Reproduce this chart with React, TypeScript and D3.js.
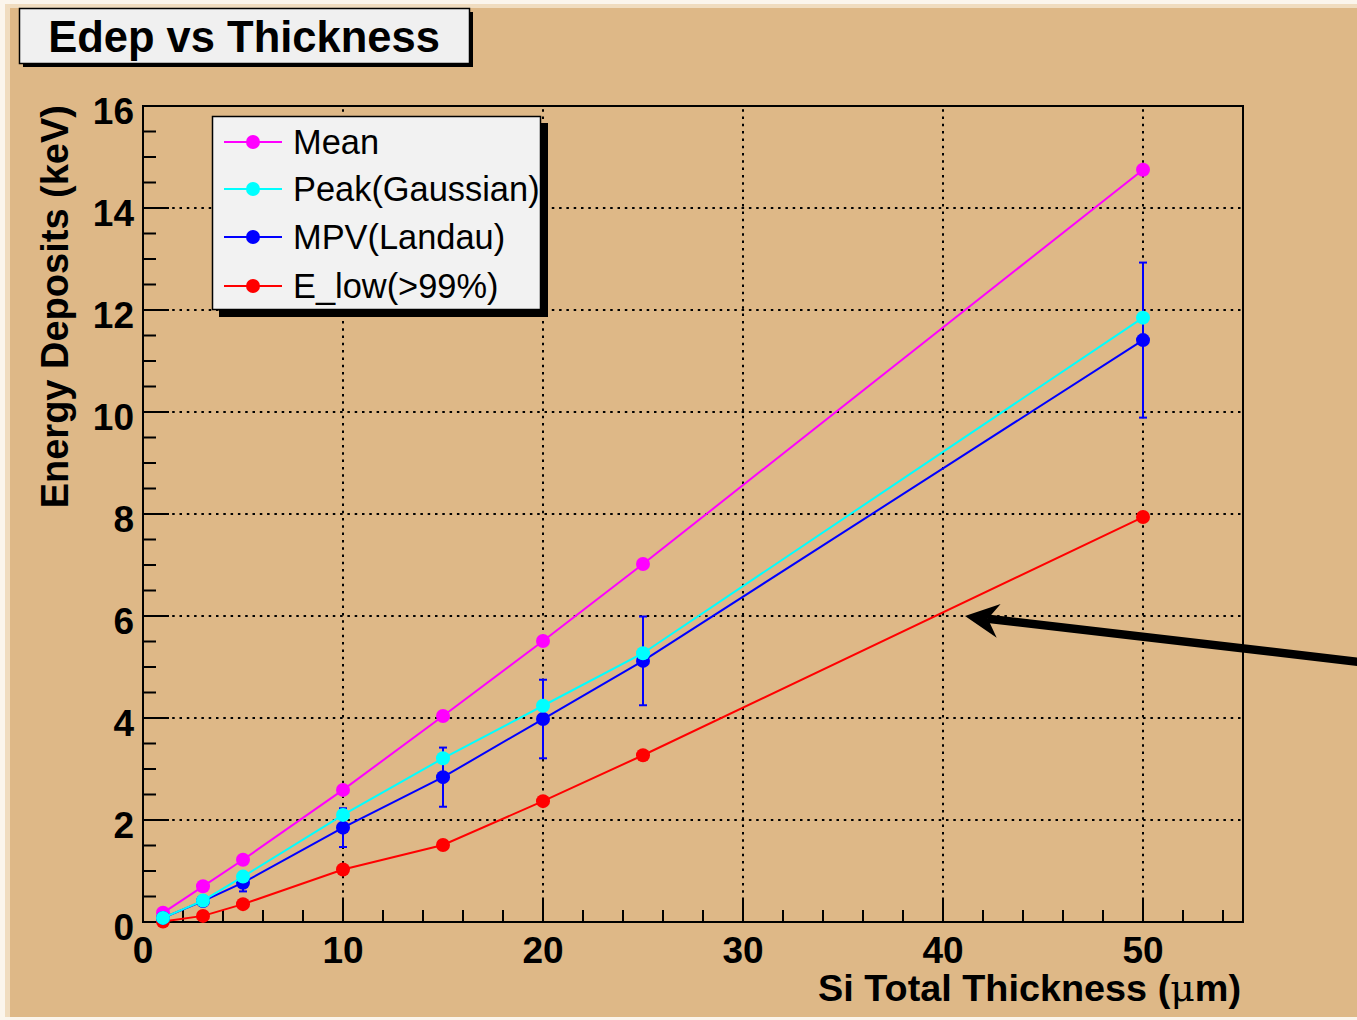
import React, { useEffect, useRef } from "react";
import * as d3 from "d3";

// Si thickness (um) and energy deposits (keV)
const thickness = [1, 3, 5, 10, 15, 20, 25, 50];
const meanEdep = [0.18, 0.7, 1.22, 2.59, 4.04, 5.51, 7.02, 14.75];
const peakEdep = [0.08, 0.42, 0.89, 2.1, 3.21, 4.24, 5.27, 11.85];
const mpvEdep = [0.08, 0.41, 0.77, 1.85, 2.84, 3.98, 5.12, 11.41];
const mpvErr = [0.04, 0.08, 0.17, 0.38, 0.58, 0.77, 0.87, 1.52];
const elowEdep = [0.01, 0.12, 0.35, 1.03, 1.51, 2.37, 3.27, 7.94];

const legendNames = ["Mean", "Peak(Gaussian)", "MPV(Landau)", "E_low(>99%)"];
const legendColors = ["#ff00ff", "#00ffff", "#0000ff", "#ff0000"];

const xMajor = [0, 10, 20, 30, 40, 50];
const yMajor = [0, 2, 4, 6, 8, 10, 12, 14, 16];

// annotation arrow, data coords (tail is outside the frame)
const arrowTail = [60.8, 5.1];
const arrowTip = [41.1, 6.0];

const FONT = "'Liberation Sans', Arial, Helvetica, sans-serif";
const BG = "#deb887";

const App = () => {
  const svgRef = useRef(null);

  useEffect(() => {
    const width = 1357;
    const height = 1020;
    const frame = { left: 143, right: 1243, top: 106, bottom: 922 };

    const svg = d3.select(svgRef.current);
    svg.selectAll("*").remove();
    svg.attr("width", width).attr("height", height);

    // canvas
    svg.append("rect").attr("width", width).attr("height", height).attr("fill", "#fbf5ec");
    svg.append("rect").attr("x", 5).attr("y", 4).attr("width", width - 5).attr("height", height - 7).attr("fill", "#f0dcbf");
    svg.append("rect").attr("x", 10).attr("y", 8).attr("width", width - 10).attr("height", height - 11).attr("fill", BG);

    const x = d3.scaleLinear().domain([0, 55]).range([frame.left, frame.right]);
    const y = d3.scaleLinear().domain([0, 16]).range([frame.bottom, frame.top]);

    // grid
    const grid = svg.append("g").attr("stroke", "#000").attr("stroke-width", 2).attr("stroke-dasharray", "2.5,4.8");
    grid.selectAll(".gx").data(xMajor.filter(d => d > 0)).join("line")
      .attr("x1", d => x(d)).attr("x2", d => x(d))
      .attr("y1", frame.bottom).attr("y2", frame.top);
    grid.selectAll(".gy").data(yMajor.filter(d => d > 0 && d < 16)).join("line")
      .attr("y1", d => y(d)).attr("y2", d => y(d))
      .attr("x1", frame.left).attr("x2", frame.right);

    // axes with inward ticks
    const xMinor = d3.range(0, 55.01, 2).filter(d => d % 10 !== 0);
    const yMinor = d3.range(0, 16.01, 0.5).filter(d => d % 2 !== 0);

    const xAxis = svg.append("g").attr("stroke", "#000").attr("stroke-width", 2);
    xAxis.selectAll(".mj").data(xMajor).join("line")
      .attr("x1", d => x(d)).attr("x2", d => x(d))
      .attr("y1", frame.bottom).attr("y2", frame.bottom - 24);
    xAxis.selectAll(".mn").data(xMinor).join("line")
      .attr("class", "mn")
      .attr("x1", d => x(d)).attr("x2", d => x(d))
      .attr("y1", frame.bottom).attr("y2", frame.bottom - 12);

    const yAxis = svg.append("g").attr("stroke", "#000").attr("stroke-width", 2);
    yAxis.selectAll(".mj").data(yMajor).join("line")
      .attr("y1", d => y(d)).attr("y2", d => y(d))
      .attr("x1", frame.left).attr("x2", frame.left + 26);
    yAxis.selectAll(".mn").data(yMinor).join("line")
      .attr("class", "mn")
      .attr("y1", d => y(d)).attr("y2", d => y(d))
      .attr("x1", frame.left).attr("x2", frame.left + 13);

    // frame
    svg.append("rect")
      .attr("x", frame.left).attr("y", frame.top)
      .attr("width", frame.right - frame.left).attr("height", frame.bottom - frame.top)
      .attr("fill", "none").attr("stroke", "#000").attr("stroke-width", 2);

    // tick labels
    svg.append("g").selectAll("text").data(xMajor).join("text")
      .attr("x", d => x(d)).attr("y", 963)
      .attr("text-anchor", "middle")
      .attr("font-family", FONT).attr("font-weight", "bold").attr("font-size", 37)
      .text(d => d);
    svg.append("g").selectAll("text").data(yMajor).join("text")
      .attr("x", 134).attr("y", d => y(d) + 18)
      .attr("text-anchor", "end")
      .attr("font-family", FONT).attr("font-weight", "bold").attr("font-size", 37)
      .text(d => d);

    // axis titles
    const xt = svg.append("text")
      .attr("x", 1241).attr("y", 1001)
      .attr("text-anchor", "end")
      .attr("font-family", FONT).attr("font-weight", "bold").attr("font-size", 37.8);
    xt.append("tspan").text("Si Total Thickness (");
    xt.append("tspan").attr("font-weight", "normal").attr("font-family", "'DejaVu Serif', serif").text("\u03bc");
    xt.append("tspan").text("m)");

    svg.append("text")
      .attr("transform", "translate(68,105) rotate(-90)")
      .attr("text-anchor", "end")
      .attr("font-family", FONT).attr("font-weight", "bold").attr("font-size", 38)
      .text("Energy Deposits (keV)");

    // series
    const line = d3.line().x(d => x(d[0])).y(d => y(d[1]));
    const drawSeries = (vals, color) => {
      const pts = thickness.map((t, i) => [t, vals[i]]);
      const g = svg.append("g");
      g.append("path").attr("d", line(pts)).attr("fill", "none").attr("stroke", color).attr("stroke-width", 2);
      return { g, pts };
    };
    const drawMarkers = (g, pts, color) => {
      g.selectAll("circle").data(pts).join("circle")
        .attr("cx", d => x(d[0])).attr("cy", d => y(d[1])).attr("r", 7).attr("fill", color);
    };

    const red = drawSeries(elowEdep, legendColors[3]);
    drawMarkers(red.g, red.pts, legendColors[3]);
    const mag = drawSeries(meanEdep, legendColors[0]);
    drawMarkers(mag.g, mag.pts, legendColors[0]);

    const blue = drawSeries(mpvEdep, legendColors[2]);
    const errs = thickness.map((t, i) => ({ t, lo: mpvEdep[i] - mpvErr[i], hi: mpvEdep[i] + mpvErr[i] }));
    const eg = blue.g.append("g").attr("stroke", legendColors[2]).attr("stroke-width", 2);
    eg.selectAll(".v").data(errs).join("line")
      .attr("x1", d => x(d.t)).attr("x2", d => x(d.t))
      .attr("y1", d => y(d.lo)).attr("y2", d => y(d.hi));
    eg.selectAll(".ch").data(errs).join("line")
      .attr("class", "ch")
      .attr("x1", d => x(d.t) - 4).attr("x2", d => x(d.t) + 4)
      .attr("y1", d => y(d.hi)).attr("y2", d => y(d.hi));
    eg.selectAll(".cl").data(errs).join("line")
      .attr("class", "cl")
      .attr("x1", d => x(d.t) - 4).attr("x2", d => x(d.t) + 4)
      .attr("y1", d => y(d.lo)).attr("y2", d => y(d.lo));
    drawMarkers(blue.g, blue.pts, legendColors[2]);

    const cyan = drawSeries(peakEdep, legendColors[1]);
    drawMarkers(cyan.g, cyan.pts, legendColors[1]);

    // legend
    const lg = svg.append("g");
    lg.append("rect").attr("x", 219).attr("y", 123).attr("width", 329).attr("height", 194).attr("fill", "#000");
    lg.append("rect").attr("x", 212.5).attr("y", 116.5).attr("width", 328).attr("height", 193)
      .attr("fill", "#f2f2f2").attr("stroke", "#000").attr("stroke-width", 1.5);
    const rowY = [142, 189, 237, 286];
    legendNames.forEach((name, i) => {
      lg.append("line").attr("x1", 224).attr("x2", 282).attr("y1", rowY[i]).attr("y2", rowY[i])
        .attr("stroke", legendColors[i]).attr("stroke-width", 2);
      lg.append("circle").attr("cx", 253).attr("cy", rowY[i]).attr("r", 7).attr("fill", legendColors[i]);
      lg.append("text").attr("x", 293).attr("y", rowY[i] + 12)
        .attr("font-family", FONT).attr("font-size", 34.4).attr("fill", "#000")
        .text(name);
    });

    // title box
    const tg = svg.append("g");
    tg.append("rect").attr("x", 23).attr("y", 12).attr("width", 450).attr("height", 55).attr("fill", "#000");
    tg.append("rect").attr("x", 19.5).attr("y", 8.5).attr("width", 450).attr("height", 55)
      .attr("fill", "#f0f0f0").attr("stroke", "#000").attr("stroke-width", 1.5);
    tg.append("text").attr("x", 244).attr("y", 52).attr("text-anchor", "middle")
      .attr("font-family", FONT).attr("font-weight", "bold").attr("font-size", 43.5)
      .text("Edep vs Thickness");

    // arrow annotation
    const tip = [x(arrowTip[0]), y(arrowTip[1])];
    const tail = [x(arrowTail[0]), y(arrowTail[1])];
    const ang = Math.atan2(tail[1] - tip[1], tail[0] - tip[0]);
    const along = (d, off) => [
      tip[0] + d * Math.cos(ang) - off * Math.sin(ang),
      tip[1] + d * Math.sin(ang) + off * Math.cos(ang),
    ];
    const notch = along(23, 0);
    svg.append("line")
      .attr("x1", tail[0]).attr("y1", tail[1]).attr("x2", notch[0]).attr("y2", notch[1])
      .attr("stroke", "#000").attr("stroke-width", 8.5);
    const head = [tip, along(34, -16), notch, along(34, 18)];
    svg.append("polygon").attr("points", head.map(p => p.join(",")).join(" ")).attr("fill", "#000");
  }, []);

  return (
    <div style={{ position: "absolute", left: 0, top: 0 }}>
      <svg ref={svgRef} style={{ display: "block" }} />
    </div>
  );
};

export default App;
